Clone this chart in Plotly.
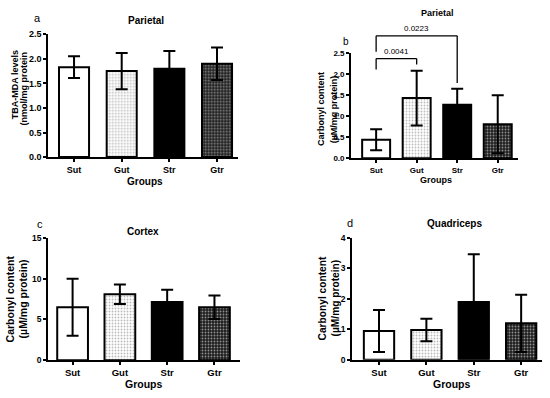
import plotly.graph_objects as go

groups = ["Sut", "Gut", "Str", "Gtr"]

# Panel a: Parietal TBA-MDA
a_mean = [1.83, 1.75, 1.80, 1.90]
a_err = [0.22, 0.37, 0.36, 0.33]
# Panel b: Parietal carbonyl
b_mean = [0.44, 1.43, 1.27, 0.81]
b_err = [0.25, 0.65, 0.38, 0.69]
# Panel c: Cortex carbonyl
c_mean = [6.5, 8.1, 7.15, 6.5]
c_err = [3.5, 1.2, 1.5, 1.45]
# Panel d: Quadriceps carbonyl
d_mean = [0.95, 0.98, 1.90, 1.20]
d_err = [0.69, 0.37, 1.57, 0.94]

# significance brackets for panel b: (from, to, level, left end, right end, label)
b_brackets = [
    ("Sut", "Str", 2.91, 2.53, 1.79, "0.0223"),
    ("Sut", "Gut", 2.37, 2.11, 2.23, "0.0041"),
]

W, H = 550, 398
FONT = "Liberation Sans, Arial, sans-serif"

# per-group bar style
bar_style = {
    "Sut": dict(color="white", shape="", fg="white", size=3, sol=0.3),
    "Gut": dict(color="white", shape=".", fg="#7a7a7a", size=3, sol=0.3),
    "Str": dict(color="black", shape="", fg="black", size=3, sol=0.3),
    "Gtr": dict(color="#1e1e1e", shape=".", fg="#ffffff", size=3, sol=0.3),
}

fig = go.Figure()

panels = [
    dict(mean=a_mean, err=a_err, xa="x", ya="y", xd=[48.3, 238], yd=[156, 30],
         xr=[-0.54, 3.44], yr=[0, 2.5], dt=0.5, fmt=".1f", bw=0.63, xf=9, yf=9),
    dict(mean=b_mean, err=b_err, xa="x2", ya="y2", xd=[351, 518], yd=[157.3, 49.3],
         xr=[-0.62, 3.5], yr=[0, 2.5], dt=0.5, fmt=".1f", bw=0.69, xf=8, yf=8),
    dict(mean=c_mean, err=c_err, xa="x3", ya="y3", xd=[48, 240], yd=[364.3, 239],
         xr=[-0.52, 3.54], yr=[0, 15], dt=5, fmt="d", bw=0.65, xf=9.5, yf=8.5),
    dict(mean=d_mean, err=d_err, xa="x4", ya="y4", xd=[352, 542], yd=[364, 239],
         xr=[-0.57, 3.44], yr=[0, 4], dt=1, fmt="d", bw=0.64, xf=9.5, yf=8.5),
]

layout = dict(
    width=W, height=H, margin=dict(l=0, r=0, t=0, b=0),
    paper_bgcolor="white", plot_bgcolor="white", showlegend=False,
    font=dict(family=FONT, color="black"), barmode="overlay",
)

for i, p in enumerate(panels):
    for g, m, e in zip(groups, p["mean"], p["err"]):
        st = bar_style[g]
        pattern = dict(shape=st["shape"], fgcolor=st["fg"], bgcolor=st["color"],
                       size=st["size"], solidity=st["sol"], fillmode="overlay")
        fig.add_trace(go.Bar(
            x=[g], y=[m], xaxis=p["xa"], yaxis=p["ya"], width=p["bw"],
            marker=dict(color=st["color"], line=dict(color="black", width=2), pattern=pattern),
            error_y=dict(type="data", array=[e], color="black", thickness=2, width=6),
        ))
    sfx = "" if i == 0 else str(i + 1)
    layout["xaxis" + sfx] = dict(
        domain=[p["xd"][0] / W, p["xd"][1] / W], anchor=p["ya"], type="category",
        categoryorder="array", categoryarray=groups,
        range=p["xr"], showline=True, linecolor="black", linewidth=1.8,
        ticks="outside", ticklen=3, tickwidth=1.5, tickcolor="black",
        tickfont=dict(size=p["xf"], family=FONT, weight="bold"), showgrid=False, zeroline=False,
        fixedrange=True,
    )
    layout["yaxis" + sfx] = dict(
        domain=[1 - p["yd"][0] / H, 1 - p["yd"][1] / H], anchor=p["xa"],
        range=p["yr"], dtick=p["dt"], tick0=0, tickformat=p["fmt"],
        showline=True, linecolor="black", linewidth=1.8,
        ticks="outside", ticklen=3, tickwidth=1.5, tickcolor="black",
        tickfont=dict(size=p["yf"], family=FONT, weight="bold"), showgrid=False, zeroline=False,
        fixedrange=True,
    )

fig.update_layout(**layout)

ann = []
def txt(x, y, s, size=10, bold=True, angle=0):
    ann.append(dict(x=x / W, y=1 - y / H, xref="paper", yref="paper", text=s,
                    showarrow=False, textangle=angle, xanchor="center", yanchor="middle",
                    font=dict(size=size, family=FONT, color="black",
                              weight="bold" if bold else "normal")))

# panel letters
txt(37, 13, "a", size=11, bold=False)
txt(346, 37, "b", size=10, bold=False)
txt(40, 225, "c", size=11, bold=False)
txt(350, 224, "d", size=11, bold=False)
# titles
txt(145.5, 16, "Parietal")
txt(437, 8, "Parietal", size=9)
txt(143, 232, "Cortex")
txt(454, 224, "Quadriceps")
# x titles
txt(145, 181, "Groups")
txt(436, 179, "Groups", size=9)
txt(143, 389, "Groups", size=10.5)
txt(451, 389, "Groups", size=10.5)
# y titles (two lines each)
txt(15.3, 82, "TBA-MDA levels", size=9, angle=-90)
txt(24.2, 85.5, "(nmol/mg protein", size=9, angle=-90)
txt(321.7, 107, "Carbonyl content", size=9, angle=-90)
txt(334, 107, "(µM/mg protein)", size=9, angle=-90)
txt(10, 302, "Carbonyl content", size=10.5, angle=-90)
txt(23, 302, "(µM/mg protein)", size=10.5, angle=-90)
txt(322, 301, "Carbonyl content", size=10.2, angle=-90)
txt(335, 301, "(µM/mg protein)", size=10.2, angle=-90)

# significance brackets on panel b
ymax_b = panels[1]["yr"][1]
shapes = []
for g0, g1, lvl, e0, e1, lab in b_brackets:
    fy = lambda v: v / ymax_b
    for (xa0, ya0, xa1, ya1) in [(g0, e0, g0, lvl), (g0, lvl, g1, lvl), (g1, lvl, g1, e1)]:
        shapes.append(dict(type="line", xref="x2", yref="y2 domain",
                           x0=xa0, x1=xa1, y0=fy(ya0), y1=fy(ya1),
                           line=dict(color="black", width=1.3)))
    i0, i1 = groups.index(g0), groups.index(g1)
    ann.append(dict(x=(i0 + i1) / 2, y=fy(lvl), xref="x2", yref="y2 domain", text=lab,
                    showarrow=False, xanchor="center", yanchor="bottom", yshift=1,
                    font=dict(size=8, family=FONT, color="black")))

fig.update_layout(annotations=ann, shapes=shapes)
fig.write_html("out.html", config={"displayModeBar": False},
               post_script="document.body.style.margin='0';")
